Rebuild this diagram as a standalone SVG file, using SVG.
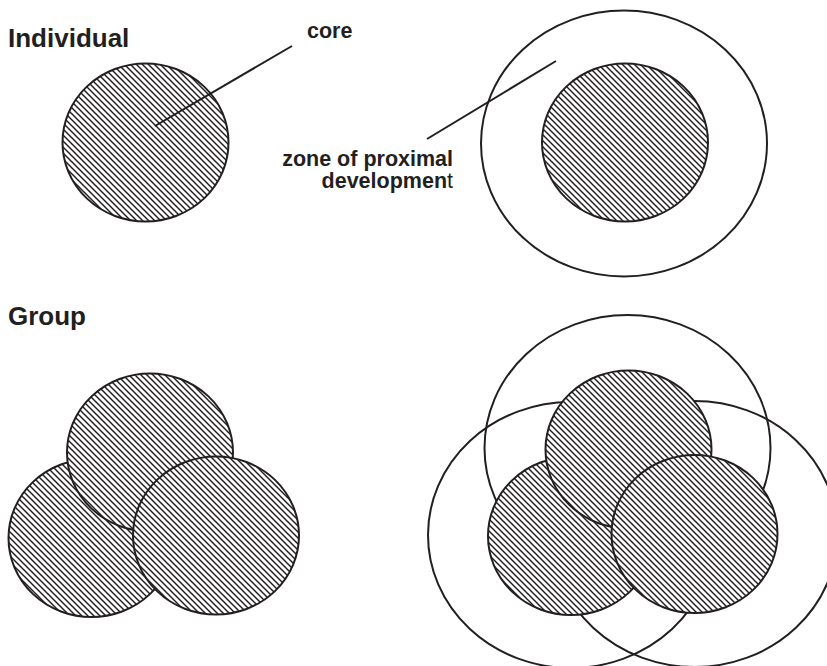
<svg xmlns="http://www.w3.org/2000/svg" width="827" height="666" viewBox="0 0 827 666">
  <style>
    .core { fill: url(#hatch); stroke: #231f20; stroke-width: 2; }
    .zone { fill: none; stroke: #231f20; stroke-width: 2; }
    .lead { stroke: #231f20; stroke-width: 2; fill: none; }
    .heading { font-family: "Liberation Sans", Arial, sans-serif; font-weight: bold; font-size: 26px; fill: #231f20; }
    .label { font-family: "Liberation Sans", Arial, sans-serif; font-weight: bold; font-size: 21.5px; fill: #231f20; }
  </style>
  <defs>
    <!-- diagonal hatching used for the "core" areas -->
    <pattern id="hatch" patternUnits="userSpaceOnUse" width="6" height="6">
      <rect width="6" height="6" fill="#ffffff"/>
      <path d="M-1,-1 L7,7 M-1,5 L1,7 M5,-1 L7,1" stroke="#231f20" stroke-width="1.45"/>
    </pattern>
  </defs>

  <rect width="827" height="666" fill="#ffffff"/>

  <!-- section headings -->
  <text class="heading" x="8" y="47">Individual</text>
  <text class="heading" x="8" y="325">Group</text>

  <!-- individual: core only -->
  <g id="individual-core">
    <ellipse class="core" cx="145.5" cy="142.5" rx="83" ry="79"/>
  </g>

  <!-- individual: core with surrounding zone -->
  <g id="individual-zone">
    <ellipse class="zone" cx="624" cy="143.5" rx="143" ry="133"/>
    <ellipse class="core" cx="625" cy="142.5" rx="83" ry="79"/>
  </g>

  <!-- group: three overlapping cores -->
  <g id="group-cores">
    <ellipse class="core" cx="91.5" cy="538" rx="83" ry="79"/>
    <ellipse class="core" cx="150" cy="452.5" rx="83" ry="79"/>
    <ellipse class="core" cx="216" cy="535.5" rx="83" ry="79"/>
  </g>

  <!-- group: cores with their zones -->
  <g id="group-zones">
    <ellipse class="zone" cx="627.5" cy="448" rx="143" ry="133"/>
    <ellipse class="zone" cx="571" cy="535" rx="143" ry="133"/>
    <ellipse class="zone" cx="694.5" cy="534" rx="143" ry="133"/>
    <ellipse class="core" cx="571" cy="536" rx="83" ry="79"/>
    <ellipse class="core" cx="628.5" cy="449.5" rx="83" ry="79"/>
    <ellipse class="core" cx="694.5" cy="534" rx="83" ry="79"/>
  </g>

  <!-- leader lines -->
  <g id="connectors">
    <line class="lead" x1="155" y1="126" x2="292" y2="46"/>
    <line class="lead" x1="427" y1="139" x2="556" y2="61"/>
  </g>

  <!-- labels -->
  <g id="label-core">
    <text class="label" x="307" y="38">core</text>
  </g>
  <g id="label-zone">
    <text class="label" x="453" y="166" text-anchor="end">zone of proximal</text>
    <text class="label" x="453" y="188" text-anchor="end">developmen<tspan font-weight="normal">t</tspan></text>
  </g>
</svg>
